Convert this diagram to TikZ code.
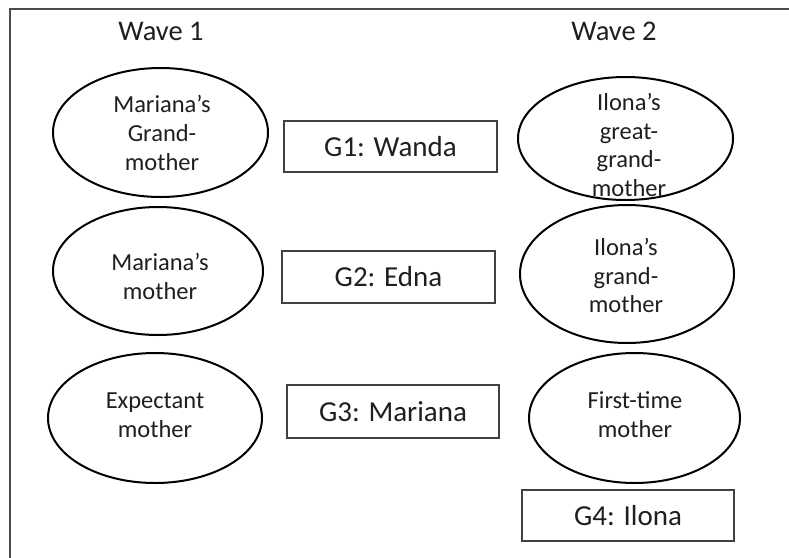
\documentclass[tikz,border=0pt]{standalone}
\usepackage{fontspec}
\setmainfont{Carlito}
\usetikzlibrary{shapes.geometric}
\begin{document}
\begin{tikzpicture}[x=1pt,y=-1pt,
  oval/.style={draw=black,line width=2pt,ellipse,inner sep=0pt},
  otext/.style={align=center,text=black!88,inner sep=0pt,font=\fontsize{24.5}{28.8}\selectfont},
  gbox/.style={draw=black!75,line width=1.5pt,rectangle,inner sep=0pt,text=black!88,font=\fontsize{29}{34}\selectfont},
  wavelabel/.style={text=black!88,inner sep=0pt,anchor=base,font=\fontsize{28.5}{34}\selectfont}]
\useasboundingbox (0,0) rectangle (789,557);
\clip (0,0) rectangle (789,557);
\fill[white] (0,0) rectangle (789,557);
\draw[black!70,line width=1.5pt] (10,9) rectangle (800,570);
% wave labels
\node[wavelabel] (w1) at (161,40) {Wave 1};
\node[wavelabel] (w2) at (614,40) {Wave 2};
% ellipses wave 1
\node[oval,minimum width=215,minimum height=129] (e1) at (160.5,132.5) {};
\node[oval,minimum width=210,minimum height=128] (e2) at (158,271) {};
\node[oval,minimum width=214,minimum height=130] (e3) at (155,418) {};
% ellipses wave 2
\node[oval,minimum width=215,minimum height=123] (e4) at (625.5,138.5) {};
\node[oval,minimum width=214,minimum height=138] (e5) at (627,274) {};
\node[oval,minimum width=211,minimum height=130] (e6) at (634.5,418) {};
% ellipse texts
\node[otext] (t1) at (162,133) {Mariana’s\\Grand-\\mother};
\node[otext] (t2) at (160,276.5) {Mariana’s\\mother};
\node[otext] (t3) at (155,415) {Expectant\\mother};
\node[otext] (t4) at (629,145) {Ilona’s\\great-\\grand-\\mother};
\node[otext] (t5) at (626,275.5) {Ilona’s\\grand-\\mother};
\node[otext] (t6) at (635,414.5) {First-time\\mother};
% generation boxes
\node[gbox,minimum width=213,minimum height=51] (g1) at (390.5,146.5) {G1: Wanda};
\node[gbox,minimum width=213,minimum height=52] (g2) at (388.5,277) {G2: Edna};
\node[gbox,minimum width=212,minimum height=53] (g3) at (393,411.5) {G3: Mariana};
\node[gbox,minimum width=212,minimum height=51] (g4) at (628,515.5) {G4: Ilona};
\end{tikzpicture}
\end{document}
